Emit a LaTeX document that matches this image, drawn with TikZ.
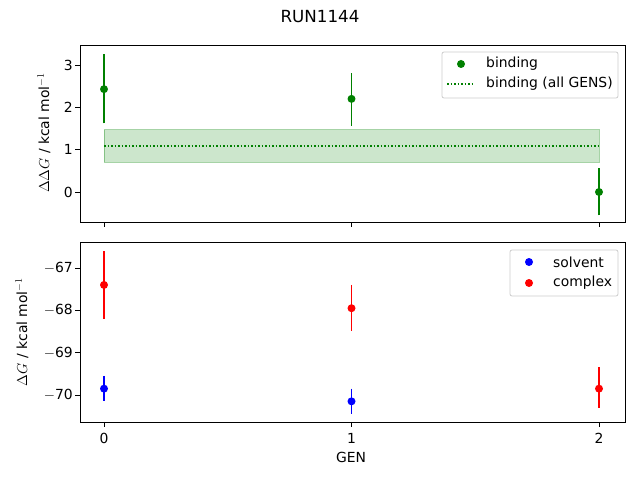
\documentclass[tikz,border=0pt]{standalone}
\usepackage{fontspec}
\setmainfont{DejaVu Sans}
\definecolor{mgreen}{RGB}{0,128,0}
\begin{document}
\begin{tikzpicture}[x=1pt,y=1pt,
  lbl/.style={font=\fontsize{13.9}{16}\selectfont,inner sep=0pt},
  tk/.style={line width=0.8pt},
  pt/.style={circle,fill=#1,inner sep=0pt,minimum size=8pt},
  eb/.style={line width=1.5pt,#1}]
\useasboundingbox (0,0) rectangle (640,480);
\node[lbl,font=\fontsize{16.7}{19}\selectfont] (title) at (320,463) {RUN1144};
% top axes
\draw[tk] (80,258) rectangle (625,435);
\begin{scope}[shift={(104,288)},x={(247.5pt,0)},y={(0,42.33pt)}]
  \fill[mgreen,opacity=0.2] (0,0.70) rectangle (2,1.47);
  \draw[mgreen,opacity=0.35,line width=0.8pt] (0,0.70) rectangle (2,1.47);
  \draw[mgreen,dotted,line width=1.5pt] (0,1.09) -- (2,1.09);
  \foreach \v in {0,1,2,3}{
    \draw[tk] (-24pt,\v) -- ++(-5pt,0);
    \node[lbl,anchor=east] at (-31pt,\v) {\v};}
  \foreach \v in {0,1,2}{\draw[tk] (\v,-0.718) -- ++(0,-5pt);}
  \draw[eb=mgreen] (0,1.62) -- (0,3.27); \node[pt=mgreen] (b0) at (0,2.43) {};
  \draw[eb=mgreen] (1,1.57) -- (1,2.82); \node[pt=mgreen] (b1) at (1,2.20) {};
  \draw[eb=mgreen] (2,-0.55) -- (2,0.57); \node[pt=mgreen] (b2) at (2,0.0) {};
\end{scope}
\node[lbl,rotate=90] (ylt) at (44,347) {$\Delta\Delta G$ / kcal mol$^{-1}$};
\draw[line width=0.8pt,black!20,fill=white,rounded corners=2pt] (442,382) rectangle (618,428);
\node[pt=mgreen] (lg1) at (461,416) {};
\node[lbl,anchor=west] at (486,416) {binding};
\draw[mgreen,dotted,line width=1.5pt] (447,396) -- (475,396);
\node[lbl,anchor=west] at (486,396) {binding (all GENS)};
% bottom axes
\draw[tk] (80,58) rectangle (625,238);
\begin{scope}[shift={(104,212)},x={(247.5pt,0)},y={(0,42.33pt)}]
  \foreach \v in {67,68,69,70}{
    \draw[tk] (-24pt,-\v+67) -- ++(-5pt,0);
    \node[lbl,anchor=east] at (-31pt,-\v+67) {$-$\v};}
  \foreach \v in {0,1,2}{
    \draw[tk] (\v,-3.638) -- ++(0,-5pt);
    \node[lbl,anchor=north] at (\v,-3.9) {\v};}
  \draw[eb=blue] (0,-2.55) -- (0,-3.15); \node[pt=blue] (s0) at (0,-2.85) {};
  \draw[eb=blue] (1,-2.85) -- (1,-3.45); \node[pt=blue] (s1) at (1,-3.15) {};
  \draw[eb=red] (0,0.4) -- (0,-1.2); \node[pt=red] (c0) at (0,-0.4) {};
  \draw[eb=red] (1,-0.4) -- (1,-1.5); \node[pt=red] (c1) at (1,-0.95) {};
  \draw[eb=red] (2,-2.35) -- (2,-3.3); \node[pt=red] (c2) at (2,-2.85) {};
\end{scope}
\node[lbl,rotate=90] (ylb) at (22,148) {$\Delta G$ / kcal mol$^{-1}$};
\node[lbl] (xl) at (351,23) {GEN};
\draw[line width=0.8pt,black!20,fill=white,rounded corners=2pt] (510,184) rectangle (618,230);
\node[pt=blue] (lg2) at (529,218) {};
\node[lbl,anchor=west] at (553,218) {solvent};
\node[pt=red] (lg3) at (529,197) {};
\node[lbl,anchor=west] at (553,197) {complex};
\end{tikzpicture}
\end{document}
